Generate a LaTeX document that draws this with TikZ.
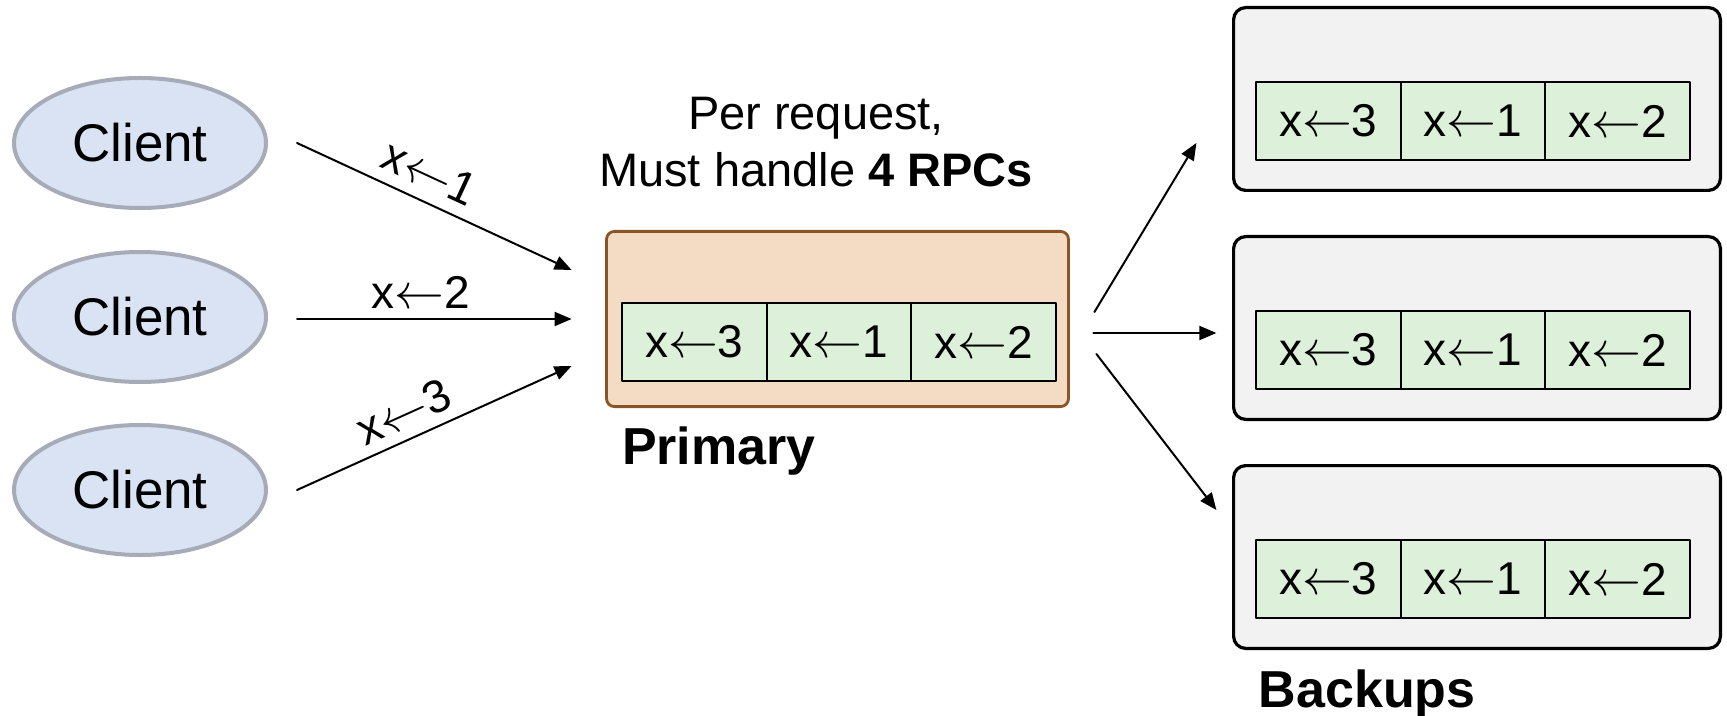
\documentclass[tikz,border=0pt]{standalone}
\usepackage{fontspec}
\setmainfont{Liberation Sans}
\usetikzlibrary{shapes.geometric,positioning,arrows.meta}
\definecolor{clientfill}{HTML}{DAE3F3}
\definecolor{clientline}{HTML}{A6ABB7}
\definecolor{primfill}{HTML}{F3DCC3}
\definecolor{primline}{HTML}{8B5426}
\definecolor{logfill}{HTML}{DDF0D9}
\definecolor{backfill}{HTML}{F2F2F2}

\begin{document}
\begin{tikzpicture}[x=0.5pt,y=-0.5pt,>={Triangle[length=8.5pt,width=7pt]}, line join=round, line cap=round,
	client/.style={ellipse, draw=clientline, fill=clientfill, line width=2pt, minimum width=126pt, minimum height=65pt, inner sep=0pt, font=\fontsize{26.5}{30}\selectfont},
	primary/.style={draw=primline, fill=primfill, line width=1.4pt, rounded corners=4pt, minimum width=231pt, minimum height=87.6pt, inner sep=0pt},
	backup/.style={draw=black, fill=backfill, line width=1.6pt, rounded corners=6pt, minimum width=243.4pt, minimum height=91.4pt, inner sep=0pt},
	logcell/.style={draw=black, fill=logfill, line width=1pt, minimum width=72.3pt, minimum height=39pt, inner sep=0pt, outer sep=0pt, font=\fontsize{23}{27}\selectfont},
	lbl/.style={font=\fontsize{23}{27}\selectfont, inner sep=2pt},
	title/.style={font=\fontsize{26}{30}\selectfont\bfseries, inner sep=0pt, anchor=base west}]
	\useasboundingbox (0,0) rectangle (1727,716);
	% clients
	\node[client] (c1) at (140,143) {Client};
	\node[client] (c2) at (140,317) {Client};
	\node[client] (c3) at (140,490) {Client};
	% primary with its log
	\node[primary] (prim) at (837.5,319) {};
	\node[logcell] (p1) at ([xshift=-71.6pt,yshift=-11.5pt]prim.center) {x$\leftarrow$3};
	\node[logcell, right=0pt of p1] (p2) {x$\leftarrow$1};
	\node[logcell, right=0pt of p2] (p3) {x$\leftarrow$2};
	\node[title] (plabel) at ([xshift=8.25pt,yshift=-28.2pt]prim.south west) {Primary};
	\node[font=\fontsize{23.5}{28.5}\selectfont, align=center, inner sep=0pt] (rpc) at (816,142.5) {Per request,\\Must handle \textbf{4 RPCs}};
	% backups, each with the same log
	\foreach \b/\y in {b1/99,b2/328,b3/557}{
		\node[backup] (\b) at (1477,\y) {};
		\node[logcell] (\b-1) at ([xshift=-74.35pt,yshift=-11pt]\b.center) {x$\leftarrow$3};
		\node[logcell, right=0pt of \b-1] (\b-2) {x$\leftarrow$1};
		\node[logcell, right=0pt of \b-2] (\b-3) {x$\leftarrow$2};
	}
	\node[title] (blabel) at ([xshift=13.2pt,yshift=-28.8pt]b3.south west) {Backups};
	% requests in
	\draw[->, line width=1pt] ([xshift=14.5pt]c1.east) -- ([xshift=-16.75pt,yshift=24.5pt]prim.west) node[lbl, pos=.44, sloped, above=4pt] {x$\leftarrow$1};
	\draw[->, line width=1pt] ([xshift=14.5pt,yshift=-1pt]c2.east) -- ([xshift=-16.75pt]prim.west) node[lbl, pos=.45, above=3pt] {x$\leftarrow$2};
	\draw[->, line width=1pt] ([xshift=14.5pt]c3.east) -- ([xshift=-16.75pt,yshift=-23.5pt]prim.west) node[lbl, pos=.43, sloped, above=3pt] {x$\leftarrow$3};
	% forwarded to backups
	\draw[->, line width=1pt] ([xshift=12.25pt,yshift=3.5pt]prim.east) -- ([xshift=-17.8pt,yshift=-22pt]b1.west);
	\draw[->, line width=1pt] ([xshift=11.75pt,yshift=-7pt]prim.east) -- ([xshift=-7.8pt,yshift=-2.5pt]b2.west);
	\draw[->, line width=1pt] ([xshift=13.25pt,yshift=-17.5pt]prim.east) -- ([xshift=-7.8pt,yshift=23.5pt]b3.west);
\end{tikzpicture}
\end{document}
